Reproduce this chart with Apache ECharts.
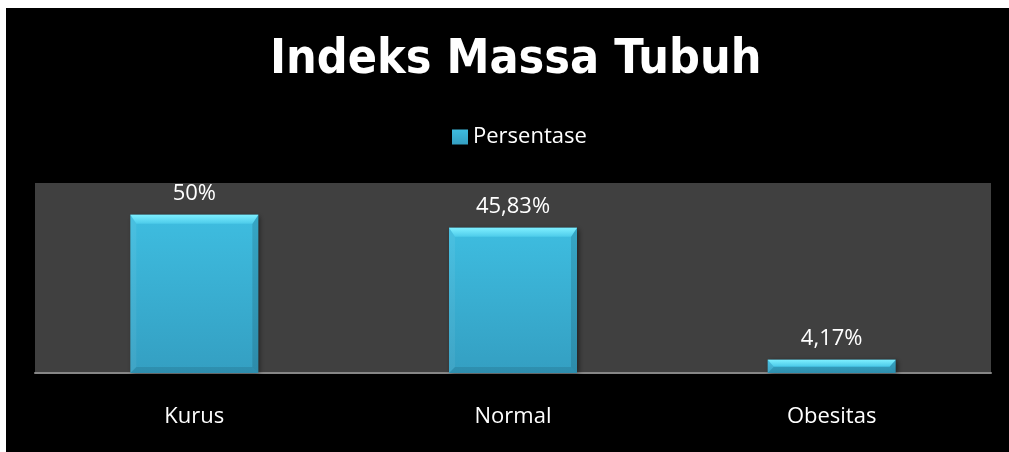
<!DOCTYPE html>
<html lang="id">
<head>
  <meta charset="UTF-8">
  <title>Indeks Massa Tubuh</title>
  <script src="https://cdn.jsdelivr.net/npm/echarts@6/dist/echarts.min.js"></script>
  <style>
    *{
      margin:0;
      padding:0;
    }
    body{
      width:1009px;
      height:452px;
      background:#fff;
      overflow:hidden;
    }
    .container{
      position:absolute;
      left:6px;
      top:8px;
      width:1003px;
      height:444px;
      background:#000;
    }
  </style>
</head>
<body>
  <div class="container"></div>

  <script type="text/javascript">
    var categories = ['Kurus', 'Normal', 'Obesitas']
    var persentase = [50, 45.83, 4.17]
    var seriesName = 'Persentase'

    var BAR_W = 128
    var bevelData = persentase.map(function (v, i) { return [i, v] })

    // bevel edges drawn on top of each bar (same values, same axes)
    function renderBevel(params, api) {
      var top = api.coord([api.value(0), api.value(1)])
      var base = api.coord([api.value(0), 0])
      var x0 = top[0] - BAR_W / 2, x1 = top[0] + BAR_W / 2
      var y0 = top[1], y1 = base[1]
      var b = Math.min(9, (y1 - y0) / 2)
      var s = Math.min(6, (y1 - y0) / 2)
      return {
        type: 'group',
        children: [
          { type: 'polygon', shape: { points: [[x0, y0], [x0 + s, y0 + b], [x0 + s, y1 - s], [x0, y1]] },
            style: { fill: 'rgba(255,255,255,0.06)' } },
          { type: 'polygon', shape: { points: [[x1, y0], [x1, y1], [x1 - s, y1 - s], [x1 - s, y0 + b]] },
            style: { fill: 'rgba(0,0,0,0.12)' } },
          { type: 'polygon', shape: { points: [[x0, y1], [x0 + s, y1 - s], [x1 - s, y1 - s], [x1, y1]] },
            style: { fill: 'rgba(0,0,0,0.1)' } },
          { type: 'polygon', shape: { points: [[x0, y0], [x1, y0], [x1 - s, y0 + b], [x0 + s, y0 + b]] },
            style: { fill: new echarts.graphic.LinearGradient(0, 0, 0, 1, [
              { offset: 0, color: '#7eefff' }, { offset: 1, color: '#4ccbea' }]) } }
        ]
      }
    }

    const mCharts = echarts.init(document.querySelector('.container'))
    var option = {
      backgroundColor: '#000',
      textStyle: { fontFamily: 'Open Sans' },
      title: {
        text: 'Indeks Massa Tubuh',
        left: 259,
        top: 24,
        textStyle: {
          color: '#fff',
          fontSize: 48,
          fontWeight: 'bold',
          fontFamily: 'DejaVu Sans Condensed, Liberation Sans'
        }
      },
      legend: {
        data: [{ name: seriesName, icon: 'rect' }],
        left: 441,
        top: 113,
        itemWidth: 16,
        itemHeight: 15,
        itemGap: 6,
        textStyle: { color: '#fff', fontSize: 22, fontFamily: 'Open Sans' }
      },
      grid: {
        left: 29,
        right: 18,
        top: 175,
        bottom: 79,
        show: true,
        backgroundColor: '#404040',
        borderWidth: 0
      },
      xAxis: {
        type: 'category',
        data: categories,
        axisLine: { lineStyle: { color: '#868686', width: 2 } },
        axisTick: { show: false },
        axisLabel: { color: '#fff', fontSize: 22, margin: 33, fontFamily: 'Open Sans' }
      },
      yAxis: {
        type: 'value',
        min: 0,
        max: 60,
        show: false,
        splitLine: { show: false }
      },
      series: [
        {
          name: seriesName,
          type: 'bar',
          data: persentase,
          barWidth: BAR_W,
          itemStyle: {
            color: new echarts.graphic.LinearGradient(0, 0, 0, 1, [
              { offset: 0, color: '#3ebde0' },
              { offset: 1, color: '#349fc2' }
            ]),
            shadowColor: 'rgba(0,0,0,0.5)',
            shadowBlur: 5,
            shadowOffsetX: 2,
            shadowOffsetY: 1
          },
          label: {
            show: true,
            position: 'top',
            distance: 10,
            color: '#fff',
            fontSize: 22,
            fontFamily: 'Open Sans',
            formatter: function (p) {
              return String(p.value).replace('.', ',') + '%'
            }
          }
        },
        {
          type: 'custom',
          renderItem: renderBevel,
          data: bevelData,
          encode: { x: 0, y: 1 },
          silent: true,
          z: 3
        }
      ]
    }
    mCharts.setOption(option)
    window.onresize = mCharts.resize
  </script>
</body>
</html>
